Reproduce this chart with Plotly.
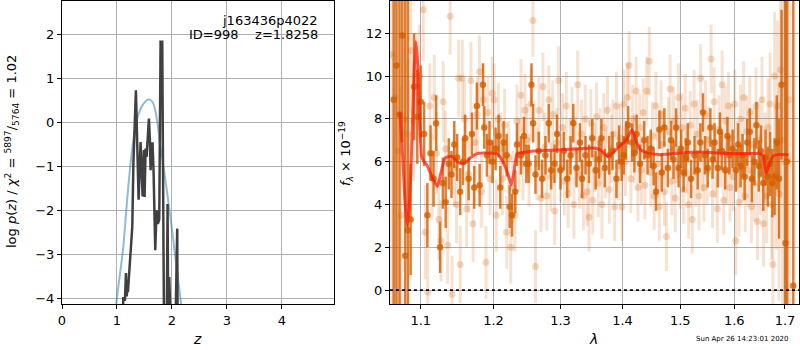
import plotly.graph_objects as go

# ---------------- left panel: redshift PDF ----------------
pz_z = [1.100, 1.115, 1.145, 1.164, 1.176, 1.188, 1.200, 1.240, 1.279, 1.300, 1.345, 1.394,
        1.430, 1.467, 1.491, 1.503, 1.521, 1.539, 1.564, 1.582, 1.600, 1.612, 1.636, 1.648,
        1.667, 1.697, 1.721, 1.745, 1.770, 1.794, 1.824, 1.842, 1.858, 1.880, 1.905, 1.921,
        1.935, 1.951, 1.976, 1.990, 2.060, 2.085, 2.097, 2.105]
pz_logp = [-5.0, -3.97, -4.05, -3.42, -3.95, -3.82, -3.85, -3.1, -2.37, -0.9, 0.74, -1.75,
           -0.44, -1.68, -0.62, -1.69, -0.59, -0.78, -0.21, 0.095, -0.40, -1.08, -0.47, -0.47,
           -1.14, -2.90, -1.99, -2.30, -2.20, 1.84, 1.84, -1.00, -5.0, -4.6, -5.0, -1.85,
           -5.0, -3.51, -5.0, -5.0, -5.0, -2.45, -2.41, -5.0]

prior_z = [0.970, 1.024, 1.070, 1.115, 1.160, 1.206, 1.250, 1.297, 1.350, 1.418, 1.465, 1.509,
           1.550, 1.588, 1.625, 1.660, 1.690, 1.721, 1.750, 1.782, 1.830, 1.873, 1.920,
           1.964, 2.010, 2.055, 2.100, 2.145, 2.190]
prior_logp = [-4.3, -3.74, -3.30, -2.83, -2.15, -1.46, -0.90, -0.40, 0.00, 0.28, 0.40, 0.47,
              0.52, 0.53, 0.50, 0.44, 0.32, 0.13, -0.12, -0.47, -0.85, -1.23, -1.65,
              -2.07, -2.52, -2.98, -3.43, -3.89, -4.35]

# ---------------- right panel: spectrum ----------------
dark_wave = [1.0650, 1.0685, 1.0725, 1.0760, 1.0798, 1.0833, 1.0868, 1.0912, 1.0955, 1.1000,
             1.1045, 1.1088, 1.1130, 1.1170, 1.1205, 1.1258, 1.1295, 1.1333, 1.1375, 1.1412,
             1.1450, 1.1490, 1.1532, 1.1570, 1.1600, 1.1648, 1.1694, 1.1727, 1.1764, 1.1802,
             1.1849, 1.1868, 1.1906, 1.1943, 1.1985, 1.2030, 1.2073, 1.2097, 1.2145, 1.2190,
             1.2233, 1.2268, 1.2316, 1.2342, 1.2400, 1.2445, 1.2480, 1.2515, 1.2557, 1.2582,
             1.2617, 1.2667, 1.2717, 1.2768, 1.2819, 1.2856, 1.2907, 1.2948, 1.3000, 1.3052,
             1.3105, 1.3157, 1.3200, 1.3252, 1.3305, 1.3340, 1.3394, 1.3450, 1.3503, 1.3558,
             1.3613, 1.3651, 1.3706, 1.3780, 1.3833, 1.3899, 1.3943, 1.3985, 1.4020, 1.4060,
             1.4095, 1.4163, 1.4200, 1.4238, 1.4297, 1.4368, 1.4425, 1.4480, 1.4530, 1.4572,
             1.4631, 1.4672, 1.4718, 1.4779, 1.4836, 1.4880, 1.4925, 1.4970, 1.5015, 1.5060,
             1.5100, 1.5136, 1.5196, 1.5257, 1.5316, 1.5365, 1.5412, 1.5450, 1.5500, 1.5550,
             1.5590, 1.5628, 1.5689, 1.5730, 1.5765, 1.5828, 1.5870, 1.5906, 1.5969, 1.6033,
             1.6075, 1.6120, 1.6160, 1.6200, 1.6250, 1.6299, 1.6340, 1.6390, 1.6430, 1.6476,
             1.6520, 1.6565, 1.6610, 1.6655, 1.6700, 1.6745, 1.6790, 1.6835, 1.6880, 1.6930,
             1.7010, 1.7040, 1.7170]
dark_flux = [8.9, 10.5, 8.2, 11.9, 1.6, 2.8, 3.3, 9.5, 8.1, 8.8,
             7.3, 3.5, 6.4, 5.2, 7.8, 2.0, 5.0, 4.1, 5.9, 5.4,
             6.8, 6.2, 4.6, 6.0, 7.1, 5.2, 7.3, 4.8, 8.6, 4.9,
             9.6, 7.6, 6.3, 6.9, 6.0, 6.6, 7.2, 4.8, 6.9, 6.3,
             3.9, 3.5, 4.6, 6.8, 6.3, 7.2, 5.9, 5.9, 9.6, 7.8,
             5.4, 6.5, 5.2, 6.3, 7.8, 5.6, 5.9, 7.3, 5.6, 6.5,
             5.2, 6.3, 7.8, 5.7, 6.9, 5.2, 6.3, 5.9, 7.1, 5.6,
             6.1, 7.1, 5.7, 6.3, 6.5, 5.2, 6.8, 6.0, 6.3, 7.0,
             7.7, 6.9, 6.4, 7.3, 5.9, 7.0, 6.3, 6.6, 5.8, 4.6,
             7.5, 5.5, 7.6, 5.7, 7.0, 6.1, 7.6, 5.7, 6.6, 5.5,
             6.2, 6.9, 5.2, 6.3, 5.6, 6.9, 8.3, 6.3, 5.7, 7.6,
             6.1, 6.9, 5.7, 7.4, 6.5, 5.6, 7.2, 6.3, 6.6, 5.6,
             6.8, 5.8, 6.3, 5.3, 6.9, 7.4, 5.2, 6.0, 7.7, 5.8,
             6.5, 5.0, 6.2, 5.3, 5.9, 5.0, 5.3, 6.9, 5.2, 9.6,
             2.2, 6.0, 0.2]
dark_err = [30, 30, 30, 5, 30, 30, 2.6, 2.5, 2.2, 1.7,
            1.5, 1.5, 1.3, 1.3, 1.3, 1.2, 1.2, 1.2, 1.2, 1.1,
            1.1, 1.1, 1.1, 1.1, 1.1, 1.0, 1.0, 1.0, 1.1, 1.0,
            1.0, 1.0, 1.0, 1.0, 1.0, 1.0, 1.0, 1.0, 1.0, 1.0,
            1.0, 1.0, 1.0, 1.0, 0.9, 0.9, 0.9, 0.9, 1.0, 0.9,
            0.9, 0.9, 0.9, 0.9, 0.9, 0.9, 0.9, 0.9, 0.9, 0.9,
            0.9, 0.9, 0.9, 0.9, 0.9, 0.9, 0.9, 0.9, 0.9, 0.9,
            0.9, 0.9, 0.9, 0.9, 0.9, 0.9, 0.9, 0.9, 0.9, 0.9,
            0.9, 0.9, 0.9, 0.9, 0.9, 0.9, 0.9, 0.9, 0.9, 0.9,
            0.9, 0.9, 0.9, 0.9, 0.9, 0.9, 0.9, 0.9, 0.9, 0.9,
            0.9, 0.9, 0.9, 0.9, 0.9, 0.9, 0.9, 0.9, 0.9, 0.9,
            0.9, 0.9, 0.9, 0.9, 0.9, 0.9, 0.9, 0.9, 0.9, 1.0,
            1.0, 1.0, 1.0, 1.1, 1.1, 1.1, 1.1, 1.1, 1.1, 1.2,
            1.2, 1.3, 1.3, 1.4, 1.5, 1.6, 1.8, 2.2, 2.8, 3.5,
            30, 30, 30]

light_wave = [1.0625, 1.0665, 1.0705, 1.0745, 1.0788, 1.0830, 1.0870, 1.0905, 1.0945, 1.0985,
              1.1034, 1.1060, 1.1093, 1.1120, 1.1150, 1.1180, 1.1210, 1.1240, 1.1270, 1.1300,
              1.1330, 1.1360, 1.1394, 1.1420, 1.1450, 1.1480, 1.1510, 1.1532, 1.1560, 1.1590,
              1.1620, 1.1650, 1.1680, 1.1710, 1.1740, 1.1770, 1.1800, 1.1830, 1.1860, 1.1893,
              1.1920, 1.1950, 1.1980, 1.2010, 1.2040, 1.2070, 1.2100, 1.2130, 1.2160, 1.2190,
              1.2220, 1.2250, 1.2280, 1.2310, 1.2340, 1.2370, 1.2400, 1.2430, 1.2460, 1.2490,
              1.2520, 1.2550, 1.2578, 1.2617, 1.2640, 1.2670, 1.2700, 1.2730, 1.2760, 1.2790,
              1.2820, 1.2850, 1.2880, 1.2910, 1.2940, 1.2970, 1.3000, 1.3030, 1.3060, 1.3090,
              1.3120, 1.3150, 1.3180, 1.3210, 1.3240, 1.3270, 1.3300, 1.3330, 1.3360, 1.3390,
              1.3420, 1.3450, 1.3480, 1.3510, 1.3540, 1.3570, 1.3600, 1.3630, 1.3660, 1.3690,
              1.3720, 1.3750, 1.3780, 1.3810, 1.3840, 1.3870, 1.3900, 1.3930, 1.3960, 1.3990,
              1.4020, 1.4050, 1.4080, 1.4112, 1.4140, 1.4170, 1.4200, 1.4230, 1.4260, 1.4290,
              1.4320, 1.4350, 1.4380, 1.4410, 1.4455, 1.4480, 1.4510, 1.4540, 1.4570, 1.4600,
              1.4630, 1.4660, 1.4690, 1.4720, 1.4754, 1.4790, 1.4820, 1.4850, 1.4880, 1.4910,
              1.4940, 1.4970, 1.5000, 1.5030, 1.5060, 1.5090, 1.5120, 1.5150, 1.5180, 1.5217,
              1.5250, 1.5280, 1.5310, 1.5340, 1.5370, 1.5400, 1.5430, 1.5460, 1.5490, 1.5520,
              1.5564, 1.5590, 1.5620, 1.5650, 1.5680, 1.5710, 1.5740, 1.5770, 1.5800, 1.5830,
              1.5860, 1.5890, 1.5920, 1.5950, 1.5980, 1.6010, 1.6029, 1.6060, 1.6090, 1.6120,
              1.6150, 1.6180, 1.6210, 1.6240, 1.6270, 1.6300, 1.6330, 1.6360, 1.6390, 1.6420,
              1.6450, 1.6480, 1.6510, 1.6540, 1.6570, 1.6600, 1.6630, 1.6660, 1.6700, 1.6730,
              1.6756, 1.6790, 1.6820, 1.6850, 1.6880, 1.6910, 1.6950, 1.6990, 1.7050, 1.7090]
light_flux = [11.0, 9.0, 6.5, 3.5, 8.0, 7.3, 11.2, 7.9, 9.5, 10.0,
              13.1, 2.7, -0.1, 8.6, 5.3, 9.0, 6.4, 3.3, 2.3, 8.8,
              6.6, 2.1, 12.8, -0.2, 5.7, 4.0, 9.9, 1.2, 9.9, 8.0,
              3.8, 5.4, 9.8, 3.1, 6.9, 8.2, 10.2, 4.6, 8.9, 1.3,
              8.3, 5.2, 9.2, 8.9, 3.5, 8.0, 6.6, 5.2, 7.7, 2.7,
              6.2, 2.0, 4.8, 3.5, 7.9, 6.3, 9.1, 5.9, 8.4, 7.0,
              5.6, 8.7, 12.6, 1.1, 5.9, 8.4, 4.3, 9.5, 6.7, 4.4,
              8.9, 5.3, 8.2, 3.7, 6.9, 9.8, 5.7, 7.6, 5.1, 8.6,
              4.5, 6.2, 7.9, 4.0, 6.5, 9.6, 5.4, 7.3, 4.4, 8.0,
              4.6, 3.4, 7.8, 4.2, 6.2, 8.1, 5.0, 6.9, 4.0, 7.6,
              5.9, 8.4, 4.7, 6.6, 7.3, 3.9, 8.6, 5.8, 7.1, 3.9,
              8.7, 6.0, 9.0, 10.5, 5.2, 8.0, 6.6, 9.3, 4.8, 7.6,
              5.6, 8.3, 4.9, 9.3, 10.7, 5.5, 7.2, 4.4, 8.6, 5.9,
              3.9, 8.2, 6.8, 4.6, 2.5, 7.4, 9.4, 5.1, 7.9, 4.3,
              6.6, 9.0, 5.4, 7.6, 4.7, 8.5, 6.1, 4.0, 7.7, 3.3,
              8.7, 5.5, 7.3, 4.4, 9.9, 6.2, 4.8, 8.2, 5.6, 7.0,
              10.8, 4.5, 8.8, 5.9, 3.8, 7.5, 6.4, 9.6, 4.2, 7.9,
              5.6, 8.6, 4.8, 7.1, 5.3, 8.7, 2.3, 6.3, 4.1, 8.0,
              5.7, 9.0, 4.4, 7.4, 5.6, 8.3, 3.9, 6.8, 5.0, 8.6,
              3.2, 7.0, 5.4, 8.9, 3.1, 6.2, 4.4, 7.6, 8.7, 4.0,
              1.2, 10.0, 5.4, 8.6, 4.5, 10.3, 7.0, 6.0, 6.1, 8.9]
light_err = [30, 30, 30, 6, 4, 3.5, 3, 2.8, 2.5, 2.4,
             2.4, 2.2, 2.0, 2.0, 2.0, 2.0, 1.9, 1.9, 1.9, 1.9,
             1.8, 1.8, 1.8, 1.8, 1.8, 1.8, 1.8, 1.8, 1.8, 1.8,
             1.8, 1.8, 1.8, 1.8, 1.8, 1.8, 1.7, 1.7, 1.7, 1.7,
             1.7, 1.7, 1.7, 1.7, 1.7, 1.7, 1.7, 1.7, 1.7, 1.7,
             1.7, 1.7, 1.7, 1.7, 1.7, 1.7, 1.7, 1.7, 1.7, 1.7,
             1.7, 1.7, 1.7, 1.7, 1.7, 1.6, 1.6, 1.6, 1.6, 1.6,
             1.6, 1.6, 1.6, 1.6, 1.6, 1.6, 1.6, 1.6, 1.6, 1.6,
             1.6, 1.6, 1.6, 1.6, 1.6, 1.6, 1.6, 1.6, 1.6, 1.6,
             1.6, 1.6, 1.6, 1.6, 1.6, 1.6, 1.6, 1.6, 1.6, 1.6,
             1.6, 1.6, 1.6, 1.6, 1.6, 1.6, 1.6, 1.6, 1.6, 1.6,
             1.6, 1.6, 1.6, 1.6, 1.6, 1.6, 1.6, 1.6, 1.6, 1.6,
             1.6, 1.6, 1.6, 1.6, 1.6, 1.6, 1.6, 1.6, 1.6, 1.6,
             1.6, 1.6, 1.6, 1.6, 1.6, 1.6, 1.6, 1.6, 1.6, 1.6,
             1.6, 1.6, 1.6, 1.6, 1.6, 1.6, 1.6, 1.6, 1.6, 1.6,
             1.6, 1.6, 1.6, 1.6, 1.6, 1.6, 1.6, 1.6, 1.6, 1.6,
             1.6, 1.6, 1.6, 1.6, 1.6, 1.6, 1.6, 1.6, 1.6, 1.6,
             1.6, 1.6, 1.6, 1.6, 1.6, 1.6, 1.6, 1.6, 1.6, 1.6,
             1.6, 1.7, 1.7, 1.7, 1.7, 1.7, 1.7, 1.7, 1.8, 1.8,
             1.8, 1.8, 1.9, 2.0, 2.0, 2.1, 2.2, 2.3, 2.4, 2.6,
             2.8, 3.0, 3.5, 4.0, 5.0, 6.0, 30, 30, 30, 30]

model_wave = [1.0731, 1.0760, 1.0795, 1.0822, 1.0850, 1.0880, 1.0910, 1.0935, 1.0960, 1.0985,
              1.1013, 1.1045, 1.1079, 1.1150, 1.1221, 1.1270,
              1.1325, 1.1417, 1.1510, 1.1600, 1.1680, 1.1764, 1.1953, 1.2060, 1.2145, 1.2210,
              1.2258, 1.2300, 1.2342, 1.2391, 1.2600, 1.3000, 1.3300, 1.3508, 1.3620, 1.3753,
              1.3850, 1.3947, 1.4060, 1.4160, 1.4240, 1.4304, 1.4450, 1.4655, 1.5012, 1.5316,
              1.5939, 1.6300, 1.6457, 1.6560, 1.6622, 1.6690, 1.6756, 1.6853, 1.7072]
model_flux = [8.3, 6.6, 4.2, 3.0, 3.9, 6.5, 9.8, 11.6, 10.6, 8.0,
              6.25, 6.0, 5.86, 5.3, 4.84, 5.5,
              6.17, 6.25, 5.95, 5.94, 6.2, 6.38, 6.41, 6.35, 5.94, 5.4,
              4.92, 5.6, 6.38, 6.41, 6.5, 6.56, 6.6, 6.64, 6.58, 6.25,
              6.45, 6.72, 7.0, 7.5, 6.88, 6.56, 6.4, 6.33, 6.41, 6.45,
              6.38, 6.38, 6.38, 6.3, 5.47, 5.9, 6.25, 6.33, 6.33]

zero_wave = [1.0603, 1.7287]
zero_flux = [0, 0]

x_ticks_left = [0, 1, 2, 3, 4]
y_ticks_left = [-4, -3, -2, -1, 0, 1, 2]
x_ticks_right = [1.1, 1.2, 1.3, 1.4, 1.5, 1.6, 1.7]
y_ticks_right = [0, 2, 4, 6, 8, 10, 12]

target_name = "j163436p4022"
id_line = "ID=998    z=1.8258"
date_text = "Sun Apr 26 14:23:01 2020"

ORANGE = "rgba(213,94,0,0.8)"
ORANGE_LIGHT_BAR = "rgba(213,94,0,0.18)"
ORANGE_LIGHT_MK = "rgba(213,94,0,0.24)"
FONT = "DejaVu Sans"

fig = go.Figure()

# left panel
fig.add_trace(go.Scatter(x=prior_z, y=prior_logp, mode="lines", xaxis="x", yaxis="y",
                         line=dict(color="rgba(31,119,180,0.5)", width=2, shape="spline", smoothing=0.8),
                         showlegend=False, hoverinfo="skip"))
fig.add_trace(go.Scatter(x=pz_z, y=pz_logp, mode="lines", xaxis="x", yaxis="y",
                         line=dict(color="#404040", width=2.5),
                         showlegend=False, hoverinfo="skip"))

# right panel
fig.add_trace(go.Scatter(x=light_wave, y=light_flux, mode="markers", xaxis="x2", yaxis="y2",
                         marker=dict(color=ORANGE_LIGHT_MK, size=7, line=dict(width=0)),
                         error_y=dict(type="data", array=light_err, color=ORANGE_LIGHT_BAR,
                                      thickness=3, width=0),
                         showlegend=False, hoverinfo="skip"))
fig.add_trace(go.Scatter(x=dark_wave, y=dark_flux, mode="markers", xaxis="x2", yaxis="y2",
                         marker=dict(color=ORANGE, size=6.5, line=dict(width=0)),
                         error_y=dict(type="data", array=dark_err, color=ORANGE,
                                      thickness=2.5, width=0),
                         showlegend=False, hoverinfo="skip"))
fig.add_trace(go.Scatter(x=model_wave, y=model_flux, mode="lines", xaxis="x2", yaxis="y2",
                         line=dict(color="rgba(255,25,10,0.72)", width=3, shape="spline", smoothing=0.5),
                         showlegend=False, hoverinfo="skip"))
fig.add_trace(go.Scatter(x=zero_wave, y=zero_flux, mode="lines", xaxis="x2", yaxis="y2",
                         line=dict(color="black", width=1.6, dash="dot"),
                         showlegend=False, hoverinfo="skip"))

axis_common = dict(showline=True, linecolor="black", linewidth=1, mirror=True,
                   ticks="outside", ticklen=4, tickcolor="black", tickwidth=1,
                   showgrid=True, gridcolor="#b0b0b0", gridwidth=1, zeroline=False,
                   automargin=False,
                   tickfont=dict(family=FONT, size=13, color="black"))

top = 1 - 1 / 350
bottom = 1 - 304 / 350

fig.update_layout(
    width=800, height=350,
    margin=dict(l=0, r=0, t=0, b=0, autoexpand=False),
    paper_bgcolor="white", plot_bgcolor="white",
    font=dict(family=FONT, size=13, color="black"),
    xaxis=dict(domain=[62 / 800, 334 / 800], range=[0, 4.95], tickvals=x_ticks_left,
               anchor="y", **axis_common),
    yaxis=dict(domain=[bottom, top], range=[-4.125, 2.77], tickvals=y_ticks_left,
               ticktext=[str(v).replace("-", "\u2212") for v in y_ticks_left],
               anchor="x", **axis_common),
    xaxis2=dict(domain=[390 / 800, 799 / 800], type="log", range=[0.02545, 0.23772],
                tickvals=x_ticks_right, ticktext=[f"{v:.1f}" for v in x_ticks_right],
                anchor="y2", **axis_common),
    yaxis2=dict(domain=[bottom, top], range=[-0.65, 13.51], tickvals=y_ticks_right,
                anchor="x2", **axis_common),
)

annotations = [
    dict(text=target_name, xref="paper", yref="paper", x=320 / 800, y=1 - 20 / 350,
         xanchor="right", yanchor="middle", showarrow=False,
         font=dict(family=FONT, size=13, color="black")),
    dict(text=id_line.replace(" ", "&nbsp;"), xref="paper", yref="paper", x=320 / 800, y=1 - 35 / 350,
         xanchor="right", yanchor="middle", showarrow=False,
         font=dict(family=FONT, size=13, color="black")),
    dict(text="<i>z</i>", xref="paper", yref="paper", x=197 / 800, y=1 - 339 / 350,
         xanchor="center", yanchor="middle", showarrow=False,
         font=dict(family=FONT, size=14, color="black")),
    dict(text="<i>λ</i>", xref="paper", yref="paper", x=593 / 800, y=1 - 339 / 350,
         xanchor="center", yanchor="middle", showarrow=False,
         font=dict(family=FONT, size=14, color="black")),
    dict(text="log <i>p</i>(<i>z</i>) / <i>χ</i><sup>2</sup> = <sup>5897</sup>/<sub>5764</sub> = 1.02",
         xref="paper", yref="paper", x=12 / 800, y=1 - 152 / 350, textangle=-90,
         xanchor="center", yanchor="middle", showarrow=False,
         font=dict(family=FONT, size=13, color="black")),
    dict(text="<i>f</i><sub><i>λ</i></sub> × 10<sup>−19</sup>",
         xref="paper", yref="paper", x=346 / 800, y=1 - 154 / 350, textangle=-90,
         xanchor="center", yanchor="middle", showarrow=False,
         font=dict(family=FONT, size=13, color="black")),
    dict(text=date_text, xref="paper", yref="paper", x=742 / 800, y=1 - 339 / 350,
         xanchor="center", yanchor="middle", showarrow=False,
         font=dict(family=FONT, size=7, color="black")),
]
fig.update_layout(annotations=annotations)

fig.write_html("out.html", config={"displayModeBar": False},
               post_script="document.body.style.margin='0';document.body.style.overflow='hidden';")
